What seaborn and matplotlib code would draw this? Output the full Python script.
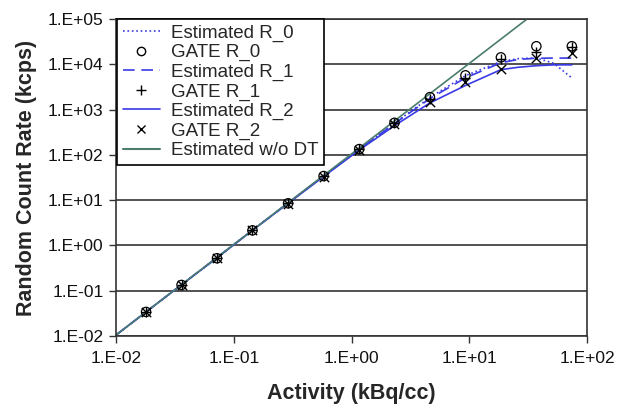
import numpy as np
import matplotlib
matplotlib.use("Agg")
import matplotlib.pyplot as plt
import seaborn as sns
from matplotlib.ticker import FuncFormatter, FixedLocator, NullLocator
from matplotlib.lines import Line2D

# activity values where GATE was simulated (kBq/cc)
gate_x = [0.018, 0.036, 0.072, 0.144, 0.289, 0.578, 1.16, 2.31, 4.62, 9.25, 18.5, 37, 74]
gate_r0 = [0.034, 0.134, 0.52, 2.15, 8.5, 34, 134, 510, 1880, 5700, 14200, 25000, 25000]
gate_r1 = [0.034, 0.134, 0.52, 2.15, 8.5, 34, 133, 500, 1750, 4900, 13000, 19000, 23500]
gate_r2 = [0.034, 0.134, 0.52, 2.15, 8.4, 33, 130, 470, 1450, 4000, 8000, 13600, 17500]

# estimated curves
est_x = [0.01, 0.018, 0.036, 0.072, 0.144, 0.289, 0.578, 1.16, 2.31, 4.62, 9.25, 18.5, 26, 37, 52, 74]
est_r0 = [0.0105, 0.034, 0.136, 0.54, 2.18, 8.7, 34, 133, 500, 1850, 5600, 11500, 13300, 13800, 10500, 5000]
est_r1 = [0.0105, 0.034, 0.136, 0.54, 2.17, 8.6, 34, 132, 490, 1750, 5000, 10800, 12800, 13600, 13700, 13700]
est_r2 = [0.0105, 0.034, 0.135, 0.53, 2.15, 8.5, 33, 128, 440, 1400, 3400, 7600, 8600, 9300, 9700, 9700]

# no dead time: straight line on log-log
nodt_x = [0.01, 0.1, 1, 10, 40]
nodt_y = [0.0105, 1.05, 105, 10500, 168000]

sns.set_style("white")
plt.rcParams['font.family'] = ['Liberation Sans', 'DejaVu Sans']

blue = '#3a3ae6'
green = '#4a7d6c'

fig = plt.figure(figsize=(6.18, 4.11), dpi=100)
ax = fig.add_axes([0.1877, 0.1825, 0.7625, 0.7713])

ax.set_xscale('log')
ax.set_yscale('log')

sns.lineplot(x=est_x, y=est_r0, ax=ax, color=blue, linestyle=':', linewidth=1.2)
sns.lineplot(x=est_x, y=est_r1, ax=ax, color=blue, linestyle=(0, (7, 4)), linewidth=1.2)
sns.lineplot(x=est_x, y=est_r2, ax=ax, color=blue, linestyle='-', linewidth=1.2)
sns.lineplot(x=nodt_x, y=nodt_y, ax=ax, color=green, linestyle='-', linewidth=1.2)

sns.scatterplot(x=gate_x, y=gate_r0, ax=ax, marker='o', s=45, facecolors='none',
                edgecolor='black', linewidth=0.9, zorder=5)
sns.scatterplot(x=gate_x, y=gate_r1, ax=ax, marker='+', s=60, color='black',
                linewidth=1.0, zorder=5)
sns.scatterplot(x=gate_x, y=gate_r2, ax=ax, marker='x', s=45, color='black',
                linewidth=1.0, zorder=5)

ax.set_xlim(0.01, 100)
ax.set_ylim(0.01, 1e5)

ax.xaxis.set_major_locator(FixedLocator([1e-2, 1e-1, 1, 10, 100]))
ax.yaxis.set_major_locator(FixedLocator([10.0 ** k for k in range(-2, 6)]))
ax.xaxis.set_minor_locator(NullLocator())
ax.yaxis.set_minor_locator(NullLocator())
fmt = FuncFormatter(lambda v, p: "1.E%+03d" % int(round(np.log10(v))))
ax.xaxis.set_major_formatter(fmt)
ax.yaxis.set_major_formatter(fmt)

ax.grid(axis='y', color='#333333', linewidth=1.2)
ax.set_axisbelow(True)
for sp in ax.spines.values():
    sp.set_color('#333333')
    sp.set_linewidth(1.2)

# seaborn's white style hides the tick marks, turn them back on
ax.tick_params(axis='both', which='major', bottom=True, left=True, direction='out',
               length=5, width=1, color='#333333', labelsize=12.5, pad=4,
               labelcolor='#111111')
ax.tick_params(axis='x', pad=6)

ax.set_xlabel('Activity (kBq/cc)', fontsize=15.5, fontweight='bold', labelpad=12)
ax.set_ylabel('Random Count Rate (kcps)', fontsize=15.5, fontweight='bold', labelpad=8)

handles = [
    Line2D([], [], color=blue, linestyle=':', linewidth=1.2),
    Line2D([], [], color='black', marker='o', markerfacecolor='none', linestyle='none', markersize=6),
    Line2D([], [], color=blue, linestyle=(0, (7, 4)), linewidth=1.2),
    Line2D([], [], color='black', marker='+', linestyle='none', markersize=7),
    Line2D([], [], color=blue, linestyle='-', linewidth=1.2),
    Line2D([], [], color='black', marker='x', linestyle='none', markersize=6),
    Line2D([], [], color=green, linestyle='-', linewidth=1.5),
]
labels = ['Estimated R_0', 'GATE R_0', 'Estimated R_1', 'GATE R_1',
          'Estimated R_2', 'GATE R_2', 'Estimated w/o DT']
leg = ax.legend(handles, labels, loc='upper left', bbox_to_anchor=(0.002, 1.0),
                fontsize=13.5, frameon=True, fancybox=False, framealpha=1,
                edgecolor='black', borderaxespad=0, labelspacing=0.12,
                handlelength=2.0, handletextpad=0.6, borderpad=0.3)
leg.get_frame().set_linewidth(1.2)

fig.savefig('out.png', dpi=100)
